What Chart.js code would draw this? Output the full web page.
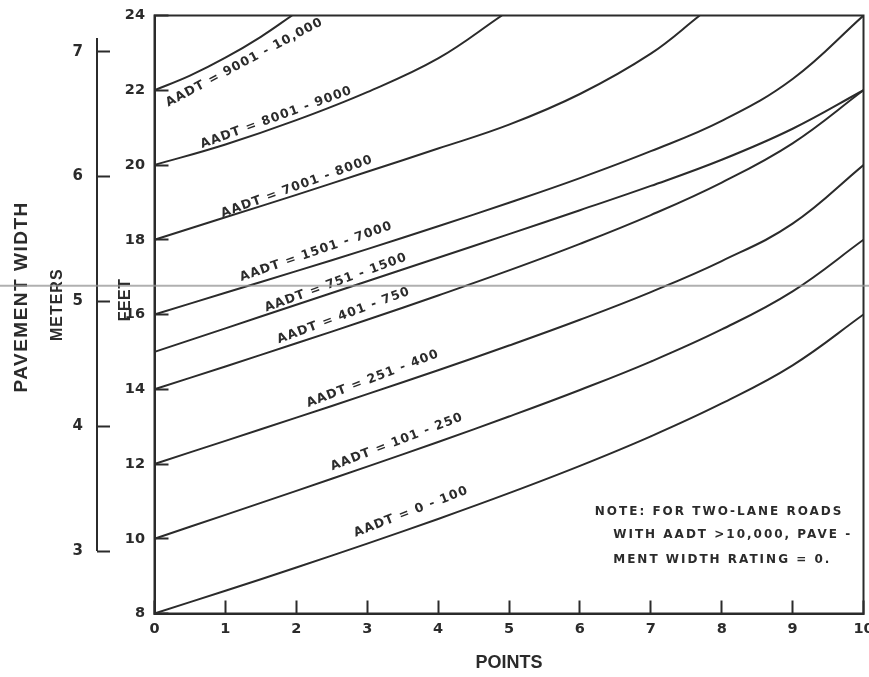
<!DOCTYPE html>
<html><head><meta charset="utf-8">
<script src="https://cdn.jsdelivr.net/npm/chart.js@4.4.1/dist/chart.umd.min.js"></script>
<style>html,body{margin:0;padding:0;background:#fff}</style>
</head><body>
<canvas id="c" width="869" height="677"></canvas>
<script>
// ---------- data ----------
const points = [0, 1, 2, 3, 4, 5, 6, 7, 8, 9, 10];          // x: rating points
const meterTicks = [3, 4, 5, 6, 7];                          // left metric scale
const aadt0to100     = [8.0, 8.61, 9.23, 9.87, 10.53, 11.22, 11.95, 12.74, 13.62, 14.64, 16.0];
const aadt101to250   = [10.0, 10.64, 11.28, 11.93, 12.59, 13.27, 13.98, 14.74, 15.6, 16.62, 18.0];
const aadt251to400   = [12.0, 12.62, 13.24, 13.87, 14.51, 15.17, 15.86, 16.6, 17.43, 18.43, 20.0];
const aadt401to750   = [14.0, 14.61, 15.23, 15.86, 16.51, 17.18, 17.89, 18.66, 19.53, 20.58, 22.0];
const aadt751to1500  = [15.0, 15.63, 16.26, 16.89, 17.52, 18.15, 18.79, 19.44, 20.14, 20.97, 22.0];
const aadt1501to7000 = [16.0, 16.58, 17.16, 17.75, 18.36, 18.99, 19.65, 20.37, 21.18, 22.3, 24.0];
const x7001to8000    = [0, 1, 2, 3, 4, 5, 6, 7, 7.69];
const aadt7001to8000 = [18.0, 18.6, 19.2, 19.82, 20.44, 21.08, 21.9, 22.98, 24.0];
const x8001to9000    = [0, 1, 2, 3, 4, 4.9];
const aadt8001to9000 = [20.0, 20.55, 21.2, 21.95, 22.85, 24.0];
const x9001to10000   = [0, 0.5, 1, 1.5, 1.94];
const aadt9001to10000= [22.0, 22.39, 22.87, 23.43, 24.0];

const seriesNames = ['AADT = 0 - 100','AADT = 101 - 250','AADT = 251 - 400','AADT = 401 - 750',
  'AADT = 751 - 1500','AADT = 1501 - 7000','AADT = 7001 - 8000','AADT = 8001 - 9000','AADT = 9001 - 10,000'];
const seriesX = [points, points, points, points, points, points, x7001to8000, x8001to9000, x9001to10000];
const seriesY = [aadt0to100, aadt101to250, aadt251to400, aadt401to750, aadt751to1500,
  aadt1501to7000, aadt7001to8000, aadt8001to9000, aadt9001to10000];

const noteLines = ['NOTE: FOR TWO-LANE ROADS', 'WITH AADT >10,000, PAVE -', 'MENT WIDTH RATING = 0.'];

// ---------- label placement (points, feet, angle) ----------
const curveLabelPos = [
  [3.62, 10.72, 21], [3.42, 12.59, 21], [3.08, 14.28, 21], [2.67, 15.97, 20.5],
  [2.56, 16.85, 20], [2.28, 17.68, 19], [2.01, 19.42, 20], [1.72, 21.27, 20], [1.27, 22.74, 28]
];
const notePos = [[6.21, 10.72], [6.47, 10.10], [6.47, 9.43]];

const INK = '#2b2b2b';
const datasets = seriesNames.map((name, i) => ({
  label: name,
  data: seriesX[i].map((x, j) => ({x: x, y: seriesY[i][j]})),
  borderColor: INK, borderWidth: 2, pointRadius: 0, fill: false,
  tension: 0.4
}));

const decor = {
  id: 'decor',
  afterDatasetsDraw(chart) {
    const {ctx, chartArea: a} = chart;
    ctx.save();
    ctx.strokeStyle = INK; ctx.lineWidth = 2;
    ctx.strokeRect(a.left, a.top, a.right - a.left, a.bottom - a.top);
    ctx.restore();
  },
  afterDraw(chart) {
    const {ctx} = chart;
    const xs = chart.scales.x, ys = chart.scales.y, ms = chart.scales.m;
    ctx.save();
    // metric axis line
    ctx.strokeStyle = INK; ctx.lineWidth = 2;
    ctx.beginPath();
    ctx.moveTo(ms.right, ms.getPixelForValue(7.11));
    ctx.lineTo(ms.right, ms.getPixelForValue(3));
    ctx.stroke();
    // curve labels
    ctx.fillStyle = INK;
    ctx.font = 'bold 12.5px "DejaVu Sans"';
    ctx.letterSpacing = '1.1px';
    ctx.textAlign = 'center'; ctx.textBaseline = 'middle';
    curveLabelPos.forEach((p, i) => {
      ctx.save();
      ctx.translate(xs.getPixelForValue(p[0]), ys.getPixelForValue(p[1]));
      ctx.rotate(-p[2] * Math.PI / 180);
      ctx.fillText(seriesNames[i], 0, 0);
      ctx.restore();
    });
    // note
    ctx.font = 'bold 12px "DejaVu Sans"';
    ctx.letterSpacing = '2px';
    ctx.textAlign = 'left';
    noteLines.forEach((t, i) => {
      ctx.fillText(t, xs.getPixelForValue(notePos[i][0]), ys.getPixelForValue(notePos[i][1]));
    });
    // rotated axis titles
    const vtext = (t, x, y, font, ls) => {
      ctx.save(); ctx.font = font; ctx.letterSpacing = ls;
      ctx.translate(x, y); ctx.rotate(-Math.PI / 2);
      ctx.textAlign = 'center'; ctx.textBaseline = 'middle';
      ctx.fillText(t, 0, 0); ctx.restore();
    };
    vtext('PAVEMENT WIDTH', ms.left + 22, ys.getPixelForValue(16.47), 'bold 19px "Liberation Sans"', '1.5px');
    vtext('METERS', ms.left + 58, ys.getPixelForValue(16.26), 'bold 16px "Liberation Sans"', '1px');
    vtext('FEET', ys.left + 29, ys.getPixelForValue(16.39), 'bold 16px "Liberation Sans"', '0.5px');
    // scan line across the sheet
    ctx.strokeStyle = 'rgba(150,150,150,0.75)'; ctx.lineWidth = 2;
    const sy = ys.getPixelForValue(16.77);
    ctx.beginPath(); ctx.moveTo(0, sy); ctx.lineTo(chart.width, sy); ctx.stroke();
    ctx.restore();
  }
};

const tickFont = {family: '"DejaVu Sans"', weight: 'bold', size: 14.5};
new Chart(document.getElementById('c'), {
  type: 'line',
  data: {datasets},
  plugins: [decor],
  options: {
    responsive: false, animation: false, devicePixelRatio: 1,
    layout: {padding: {top: 15.5, right: 5.5, bottom: 0, left: 0}},
    plugins: {legend: {display: false}, tooltip: {enabled: false}},
    scales: {
      x: {
        type: 'linear', position: 'bottom', min: 0, max: 10,
        ticks: {stepSize: 1, color: INK, font: tickFont, padding: 20},
        grid: {drawOnChartArea: false, drawTicks: true, tickLength: -13, tickColor: INK, tickWidth: 2},
        border: {display: true, color: INK, width: 2},
        title: {display: true, text: 'POINTS', color: INK,
          font: {family: '"Liberation Sans"', weight: 'bold', size: 18}, padding: {top: 0, bottom: 3}},
        afterFit: s => { s.height = 63.5; s.paddingLeft = 0; s.paddingRight = 0; }
      },
      y: {
        type: 'linear', position: 'left', weight: 0, min: 8, max: 24,
        ticks: {stepSize: 2, color: INK, font: tickFont, padding: 23.5},
        grid: {drawOnChartArea: false, drawTicks: true, tickLength: -14, tickColor: INK, tickWidth: 2},
        border: {display: true, color: INK, width: 2},
        afterFit: s => { s.width = 57.5; s.paddingTop = 0; s.paddingBottom = 0; }
      },
      m: {
        type: 'linear', position: 'left', weight: 1, min: 2.5, max: 7.29,
        afterBuildTicks: s => { s.ticks = meterTicks.map(v => ({value: v})); },
        ticks: {color: INK, font: {family: '"DejaVu Sans"', weight: 'bold', size: 15}, padding: 27},
        grid: {drawOnChartArea: false, drawTicks: true, tickLength: -13, tickColor: INK, tickWidth: 2},
        border: {display: false},
        afterFit: s => { s.width = 97; s.paddingTop = 0; s.paddingBottom = 0; }
      }
    }
  }
});
</script>
</body></html>
